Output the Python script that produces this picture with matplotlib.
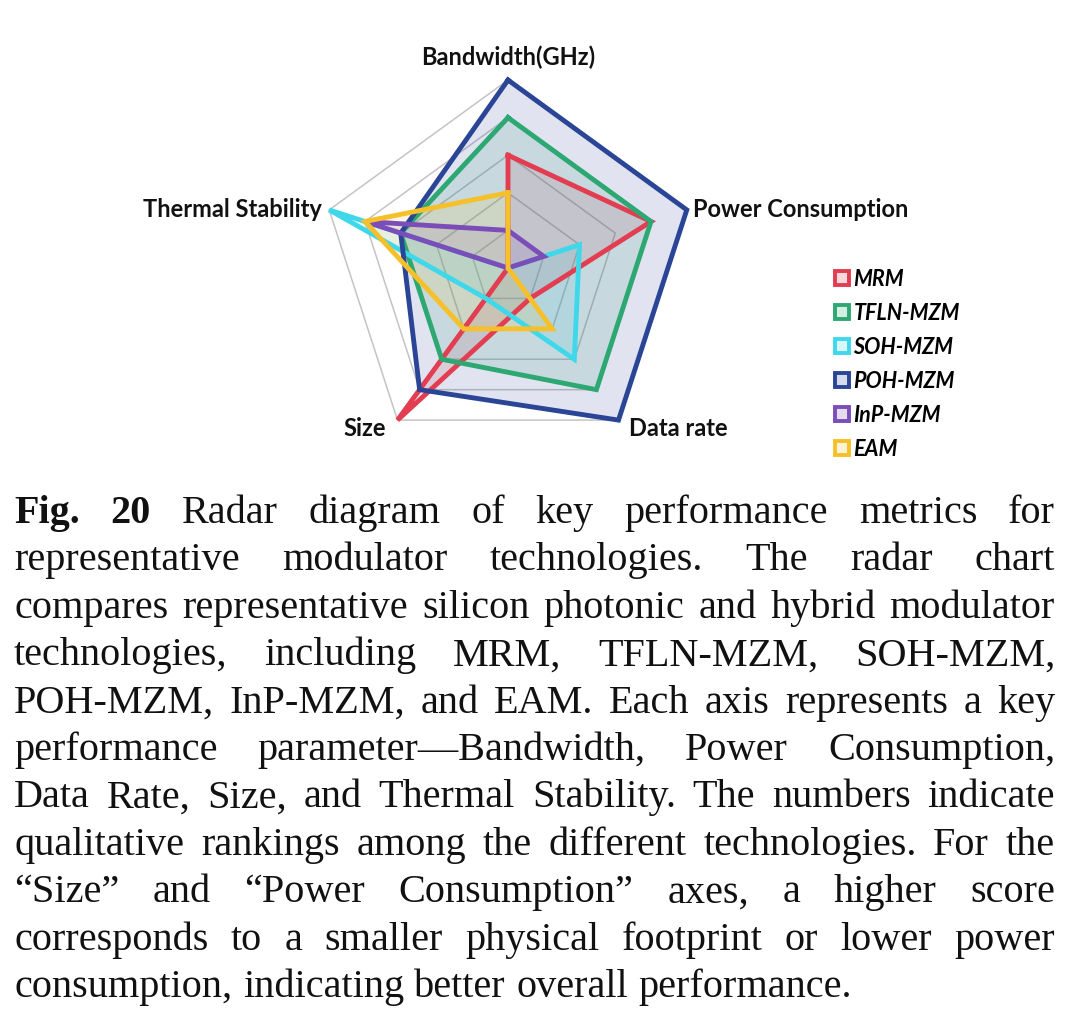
import numpy as np
import matplotlib
matplotlib.use("Agg")
import matplotlib.pyplot as plt
from matplotlib.lines import Line2D
from matplotlib import colors as mcolors

# axes of the radar, clockwise from the top
axis_labels = ["Bandwidth(GHz)", "Power Consumption", "Data rate", "Size", "Thermal Stability"]

# qualitative scores 0-5
series_names = ["MRM", "TFLN-MZM", "SOH-MZM", "POH-MZM", "InP-MZM", "EAM"]
mrm = [3, 4, 1, 5, 0]
tfln = [4, 4, 4, 3, 3]
soh = [0, 2, 3, 1, 5]
poh = [5, 5, 5, 4, 3]
inp = [1, 1, 0, 0, 4]
eam = [2, 0, 2, 2, 4]
ring_levels = [1, 2, 3, 4, 5]

series_colors = ["#E23D50", "#2DA872", "#3ED8EA", "#2B4596", "#7B4DB8", "#F5C02A"]

caption_lines = [
    "Fig. 20 Radar diagram of key performance metrics for",
    "representative modulator technologies. The radar chart",
    "compares representative silicon photonic and hybrid modulator",
    "technologies, including MRM, TFLN-MZM, SOH-MZM,",
    "POH-MZM, InP-MZM, and EAM. Each axis represents a key",
    "performance parameter\u2014Bandwidth, Power Consumption,",
    "Data Rate, Size, and Thermal Stability. The numbers indicate",
    "qualitative rankings among the different technologies. For the",
    "\u201cSize\u201d and \u201cPower Consumption\u201d axes, a higher score",
    "corresponds to a smaller physical footprint or lower power",
    "consumption, indicating better overall performance.",
]

W, H = 1080, 1022
fig = plt.figure(figsize=(W / 100, H / 100), dpi=100)

# radar placed by pixel centre / radius
cx, cy, R = 508, 268, 188
ax = fig.add_axes([(cx - R) / W, 1 - (cy + R) / H, 2 * R / W, 2 * R / H], projection="polar")
ax.set_theta_offset(np.pi / 2)
ax.set_theta_direction(-1)
ax.set_ylim(0, 5)
ax.set_axis_off()

angles = np.linspace(0, 2 * np.pi, len(axis_labels), endpoint=False)
closed = np.append(angles, angles[0])

for lvl in ring_levels:
    ax.plot(closed, [lvl] * len(closed), color="#C4C4C4", lw=1.1, zorder=1, clip_on=False)

all_series = [mrm, tfln, soh, poh, inp, eam]
for vals, col in zip(all_series, series_colors):
    v = np.append(vals, vals[0])
    ax.fill(closed, v, color=col, alpha=0.14, lw=0, zorder=2)
for vals, col in zip(all_series, series_colors):
    v = np.append(vals, vals[0])
    ax.plot(closed, v, color=col, lw=3.5, zorder=3, clip_on=False, solid_joinstyle="miter")

label_font = dict(family="Lato", weight="bold", fontsize=17, color="#111111")
offsets = [((0, 23), "center"), ((6, 0), "left"), ((10, -8), "left"), ((-12, -8), "right"), ((-7, 0), "right")]
for ang, lab, (off, ha) in zip(angles, axis_labels, offsets):
    ax.annotate(lab, xy=(ang, 5), xytext=off, textcoords="offset pixels",
                ha=ha, va="center", annotation_clip=False, **label_font)

# legend with hollow square keys
handles = []
for col in series_colors:
    face = mcolors.to_rgb(col)
    face = tuple(0.8 + 0.2 * c for c in face)
    handles.append(Line2D([], [], ls="none", marker="s", markersize=10,
                          markerfacecolor=face, markeredgecolor=col, markeredgewidth=2.8))
fig.legend(handles, series_names, loc="upper left", bbox_to_anchor=(834 / W, 1 - 269 / H),
           frameon=False, handlelength=0.7, handletextpad=0.2, labelspacing=0.6,
           borderaxespad=0, borderpad=0,
           prop=dict(family="Lato", weight="bold", style="italic", size=15.5))

# justified caption, word by word
renderer = fig.canvas.get_renderer()
x0, x1 = 14, 1055
base = 523
step = 47.4
for i, line in enumerate(caption_lines):
    words = line.split(" ")
    texts = []
    for j, w in enumerate(words):
        bold = i == 0 and j < 2
        t = fig.text(0, 0, w, fontsize=29, family="Liberation Serif",
                     weight="bold" if bold else "normal", va="baseline", ha="left", color="#111111")
        texts.append(t)
    widths = [t.get_window_extent(renderer).width for t in texts]
    if i == len(caption_lines) - 1:
        gap = 10.5
    else:
        gap = max((x1 - x0 - sum(widths)) / (len(words) - 1), 4)
    x = x0
    y = base + i * step
    for t, wd in zip(texts, widths):
        t.set_position((x / W, 1 - y / H))
        x += wd + gap

fig.savefig("out.png", dpi=100, facecolor="white")
